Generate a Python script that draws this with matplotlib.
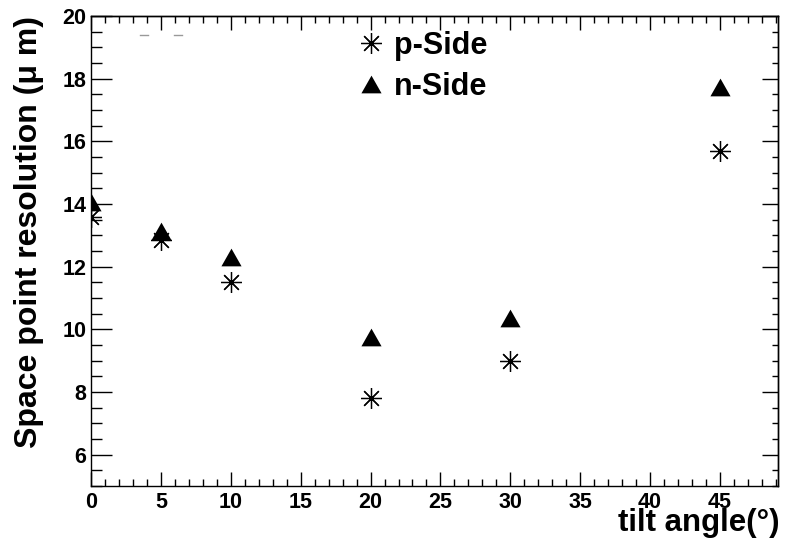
import matplotlib
matplotlib.use("Agg")
import matplotlib.pyplot as plt
from matplotlib.lines import Line2D
from matplotlib.ticker import MultipleLocator

plt.rcParams['font.family'] = ['Liberation Sans', 'DejaVu Sans']
plt.rcParams['font.weight'] = 'bold'

# Data
tilt_angles = [0, 5, 10, 20, 30, 45]
p_side = [13.6, 12.85, 11.5, 7.8, 9.0, 15.7]
n_side = [14.05, 13.15, 12.3, 9.75, 10.35, 17.75]
series_labels = ["p-Side", "n-Side"]
xlabel = "tilt angle(°)"
ylabel = "Space point resolution (μ m)"

W, H = 786, 540
fig = plt.figure(figsize=(W / 100, H / 100), dpi=100)
ax = fig.add_axes([91 / W, 1 - 486 / H, 687 / W, 470 / H])

ax.set_xlim(0, 49.15)
ax.set_ylim(5, 20)

star = (8, 2, 0)
tri = [(-1, -0.88), (1, -0.88), (0, 0.88)]

ax.plot(tilt_angles, p_side, linestyle='none', marker=star, markersize=15,
        markeredgewidth=0.9, color='black', label=series_labels[0], zorder=3)
ax.plot(tilt_angles, p_side, linestyle='none', marker='o', markersize=2.2,
        color='black', zorder=4)
ax.plot(tilt_angles, n_side, linestyle='none', marker=tri, markersize=14.5,
        color='black', markeredgewidth=0, label=series_labels[1], zorder=3)

# ticks
ax.xaxis.set_major_locator(MultipleLocator(5))
ax.xaxis.set_minor_locator(MultipleLocator(1))
ax.yaxis.set_major_locator(MultipleLocator(2))
ax.yaxis.set_minor_locator(MultipleLocator(0.5))
ax.tick_params(axis='x', which='major', direction='in', length=10, width=1.0,
               labelsize=15.5, pad=4, top=False)
ax.tick_params(axis='x', which='minor', direction='in', length=5, width=1.0, top=False)
ax.tick_params(axis='y', which='major', direction='in', length=15, width=1.0,
               labelsize=15.5, pad=3.5, right=False)
ax.tick_params(axis='y', which='minor', direction='in', length=7.7, width=1.0, right=False)
for lab in ax.get_xticklabels() + ax.get_yticklabels():
    lab.set_fontweight('bold')

sx = ax.secondary_xaxis('top')
sx.xaxis.set_major_locator(MultipleLocator(5))
sx.xaxis.set_minor_locator(MultipleLocator(1))
sx.tick_params(axis='x', which='major', direction='in', length=10, width=1.0, labeltop=False)
sx.tick_params(axis='x', which='minor', direction='in', length=5, width=1.0)
sx.spines['top'].set_linewidth(1.0)

sy = ax.secondary_yaxis('right')
sy.yaxis.set_major_locator(MultipleLocator(2))
sy.yaxis.set_minor_locator(MultipleLocator(0.5))
sy.tick_params(axis='y', which='major', direction='in', length=11.3, width=1.0, labelright=False)
sy.tick_params(axis='y', which='minor', direction='in', length=4.3, width=1.0)
sy.spines['right'].set_linewidth(1.0)

for s in ax.spines.values():
    s.set_linewidth(1.0)

# axis titles (ROOT style, aligned to the ends)
fig.text(780 / W, 2 / H, xlabel, ha='right', va='bottom', fontsize=22.5, fontweight='bold')
fig.text(29 / W, 1 - 16 / H, ylabel, ha='center', va='top', rotation=90,
         fontsize=23, fontweight='bold')

# legend
leg = ax.legend(loc='upper left', bbox_to_anchor=(0.385, 0.968), frameon=False,
                fontsize=22, handlelength=1.0, handletextpad=0.26, borderpad=0,
                borderaxespad=0, labelspacing=0.35)
for t in leg.get_texts():
    t.set_fontweight('bold')

# small grey dashes (empty title remnants)
for x0, x1 in [(140, 148), (174, 182)]:
    fig.add_artist(Line2D([x0 / W, x1 / W], [1 - 35 / H, 1 - 35 / H],
                          color='#999999', linewidth=1.0))

fig.savefig('out.png', dpi=100, facecolor='white')
